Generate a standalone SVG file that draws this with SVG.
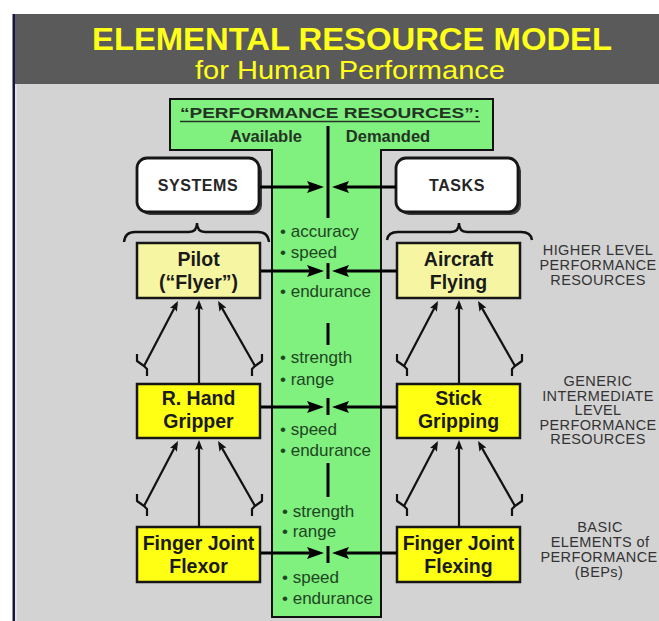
<svg xmlns="http://www.w3.org/2000/svg" width="659" height="621" viewBox="0 0 659 621">
<defs>
<style>
text{font-family:"Liberation Sans",Arial,Helvetica,sans-serif}
.ttl{fill:#ffff1a;text-anchor:middle}
.box{stroke:#161616;stroke-width:2.5}
.hl{fill:#f6f6a2}
.yl{fill:#ffff14}
.wb{fill:#ffffff;stroke:#161616;stroke-width:2.8}
.shd{fill:#3a3a3a}
.bt{font-weight:bold;font-size:19.5px;fill:#1a1a1a;text-anchor:middle}
.sys{font-weight:bold;font-size:16px;letter-spacing:0.6px;fill:#262626;text-anchor:middle}
.res{font-size:17px;fill:#1f461f}
.hdr{font-weight:bold;font-size:15px;fill:#243424}
.sub{font-weight:bold;font-size:16.5px;fill:#243424;text-anchor:middle}
.lbl{font-size:14.5px;fill:#333333;text-anchor:middle;letter-spacing:0.4px}
.ha{stroke:#000;stroke-width:3;fill:none;marker-end:url(#big)}
.va{stroke:#111;stroke-width:2.2;fill:none;marker-end:url(#small)}
.st{stroke:#111;stroke-width:2.2;fill:none;stroke-linejoin:round}
.tick{stroke:#000;stroke-width:3}
.brace{stroke:#111;stroke-width:2.4;fill:none}
</style>
<marker id="big" markerUnits="userSpaceOnUse" markerWidth="18" markerHeight="12" refX="11" refY="6" orient="auto"><path d="M0,0 L17,6 L0,12 L3,6 z" fill="#000"/></marker>
<marker id="small" markerUnits="userSpaceOnUse" markerWidth="11" markerHeight="8" refX="7" refY="4" orient="auto"><path d="M0,0 L10,4 L0,8 L2,4 z" fill="#111"/></marker>
</defs>

<!-- background -->
<rect x="0" y="0" width="659" height="621" fill="#ffffff"/>
<rect x="15" y="14" width="644" height="70" fill="#5a5a5a"/>
<rect x="15" y="84" width="644" height="537" fill="#d3d3d3"/>
<rect x="15" y="84" width="2" height="537" fill="#e2e2e2"/>
<rect x="12.5" y="14" width="2.5" height="607" fill="#141445"/>

<g id="title">
<text class="ttl" x="352" y="49.5" font-size="32" font-weight="bold" textLength="520" lengthAdjust="spacingAndGlyphs">ELEMENTAL RESOURCE MODEL</text>
<text class="ttl" x="350" y="79" font-size="26" textLength="310" lengthAdjust="spacingAndGlyphs">for Human Performance</text>
</g>

<g id="resources">
<path d="M170,99 H493 V150 H381 V617 H272 V150 H170 Z" fill="#80f07f" stroke="#111" stroke-width="2"/>
<text class="hdr" x="180" y="118" textLength="300" lengthAdjust="spacingAndGlyphs">“PERFORMANCE RESOURCES”:</text>
<line x1="180" y1="121.5" x2="480" y2="121.5" stroke="#243424" stroke-width="1.4"/>
<text class="sub" x="266" y="142">Available</text>
<text class="sub" x="388" y="142">Demanded</text>
<line class="tick" x1="328" y1="126" x2="328" y2="218"/>
<line class="tick" x1="328" y1="263" x2="328" y2="279"/>
<line class="tick" x1="328" y1="323" x2="328" y2="345"/>
<line class="tick" x1="328" y1="398" x2="328" y2="415"/>
<line class="tick" x1="328" y1="463" x2="328" y2="497"/>
<line class="tick" x1="328" y1="546" x2="328" y2="563"/>
<text class="res" x="280" y="237">• accuracy</text>
<text class="res" x="280" y="258">• speed</text>
<text class="res" x="280" y="297">• endurance</text>
<text class="res" x="280" y="363">• strength</text>
<text class="res" x="280" y="385">• range</text>
<text class="res" x="280" y="435">• speed</text>
<text class="res" x="280" y="456">• endurance</text>
<text class="res" x="282" y="517">• strength</text>
<text class="res" x="282" y="537">• range</text>
<text class="res" x="282" y="583">• speed</text>
<text class="res" x="282" y="604">• endurance</text>
</g>

<g id="systems">
<rect class="shd" x="140" y="161" width="122" height="54" rx="10"/>
<rect class="wb" x="137" y="158" width="122" height="54" rx="10"/>
<text class="sys" x="198" y="191">SYSTEMS</text>
</g>
<g id="tasks">
<rect class="shd" x="399" y="161" width="122" height="54" rx="10"/>
<rect class="wb" x="396" y="158" width="122" height="54" rx="10"/>
<text class="sys" x="457" y="191">TASKS</text>
</g>

<g id="pilot">
<rect class="box hl" x="137" y="243" width="123" height="55"/>
<text class="bt" x="198.5" y="266">Pilot</text>
<text class="bt" x="198.5" y="289">(“Flyer”)</text>
</g>
<g id="aircraft">
<rect class="box hl" x="397" y="243" width="123" height="55"/>
<text class="bt" x="458.5" y="266">Aircraft</text>
<text class="bt" x="458.5" y="289">Flying</text>
</g>
<g id="rhand">
<rect class="box yl" x="137" y="384" width="123" height="54"/>
<text class="bt" x="198.5" y="405">R. Hand</text>
<text class="bt" x="198.5" y="428">Gripper</text>
</g>
<g id="stick">
<rect class="box yl" x="397" y="384" width="123" height="54"/>
<text class="bt" x="458.5" y="405">Stick</text>
<text class="bt" x="458.5" y="428">Gripping</text>
</g>
<g id="flexor">
<rect class="box yl" x="137" y="527" width="123" height="55"/>
<text class="bt" x="198.5" y="550">Finger Joint</text>
<text class="bt" x="198.5" y="573">Flexor</text>
</g>
<g id="flexing">
<rect class="box yl" x="397" y="527" width="123" height="55"/>
<text class="bt" x="458.5" y="550">Finger Joint</text>
<text class="bt" x="458.5" y="573">Flexing</text>
</g>

<g id="level-labels">
<text class="lbl" x="598" y="255">HIGHER LEVEL</text>
<text class="lbl" x="598" y="270">PERFORMANCE</text>
<text class="lbl" x="598" y="285">RESOURCES</text>
<text class="lbl" x="598" y="386">GENERIC</text>
<text class="lbl" x="598" y="400.5">INTERMEDIATE</text>
<text class="lbl" x="598" y="415">LEVEL</text>
<text class="lbl" x="598" y="429.5">PERFORMANCE</text>
<text class="lbl" x="598" y="444">RESOURCES</text>
<text class="lbl" x="600" y="532">BASIC</text>
<text class="lbl" x="600" y="547">ELEMENTS of</text>
<text class="lbl" x="599" y="562">PERFORMANCE</text>
<text class="lbl" x="599" y="577">(BEPs)</text>
</g>

<g id="connectors">
<path class="brace" d="M124,242 Q125,232 135,232 H189 Q197,232 197,223 Q197,232 205,232 H258 Q268,232 269,242"/>
<path class="brace" d="M387,240 Q388,232 398,232 H451 Q459,232 459,223 Q459,232 467,232 H521 Q531,232 532,240"/>
<line class="ha" x1="260" y1="187" x2="318" y2="187"/>
<line class="ha" x1="396" y1="187" x2="338" y2="187"/>
<line class="ha" x1="261" y1="271" x2="318" y2="271"/>
<line class="ha" x1="397" y1="271" x2="338" y2="271"/>
<line class="ha" x1="261" y1="407" x2="318" y2="407"/>
<line class="ha" x1="397" y1="407" x2="338" y2="407"/>
<line class="ha" x1="261" y1="553" x2="318" y2="553"/>
<line class="ha" x1="397" y1="553" x2="338" y2="553"/>
<g id="fan-left-1">
<line class="va" x1="199" y1="383" x2="199" y2="303"/>
<line class="va" x1="144" y1="366" x2="176.6" y2="303.7"/>
<line class="va" x1="255" y1="366" x2="219.5" y2="303.6"/>
<path class="st" d="M137,354 V361 L144,366 L147,369 V376"/>
<path class="st" d="M262,354 V361 L255,366 L252,369 V376"/>
</g>
<g id="fan-left-2" transform="translate(0,140)">
<line class="va" x1="199" y1="387" x2="199" y2="303"/>
<line class="va" x1="144" y1="366" x2="176.6" y2="303.7"/>
<line class="va" x1="255" y1="366" x2="219.5" y2="303.6"/>
<path class="st" d="M137,354 V361 L144,366 L147,369 V376"/>
<path class="st" d="M262,354 V361 L255,366 L252,369 V376"/>
</g>
<g id="fan-right-1" transform="translate(260,0)">
<line class="va" x1="199" y1="383" x2="199" y2="303"/>
<line class="va" x1="144" y1="366" x2="176.6" y2="303.7"/>
<line class="va" x1="255" y1="366" x2="219.5" y2="303.6"/>
<path class="st" d="M137,354 V361 L144,366 L147,369 V376"/>
<path class="st" d="M262,354 V361 L255,366 L252,369 V376"/>
</g>
<g id="fan-right-2" transform="translate(260,140)">
<line class="va" x1="199" y1="387" x2="199" y2="303"/>
<line class="va" x1="144" y1="366" x2="176.6" y2="303.7"/>
<line class="va" x1="255" y1="366" x2="219.5" y2="303.6"/>
<path class="st" d="M137,354 V361 L144,366 L147,369 V376"/>
<path class="st" d="M262,354 V361 L255,366 L252,369 V376"/>
</g>
</g>
</svg>
